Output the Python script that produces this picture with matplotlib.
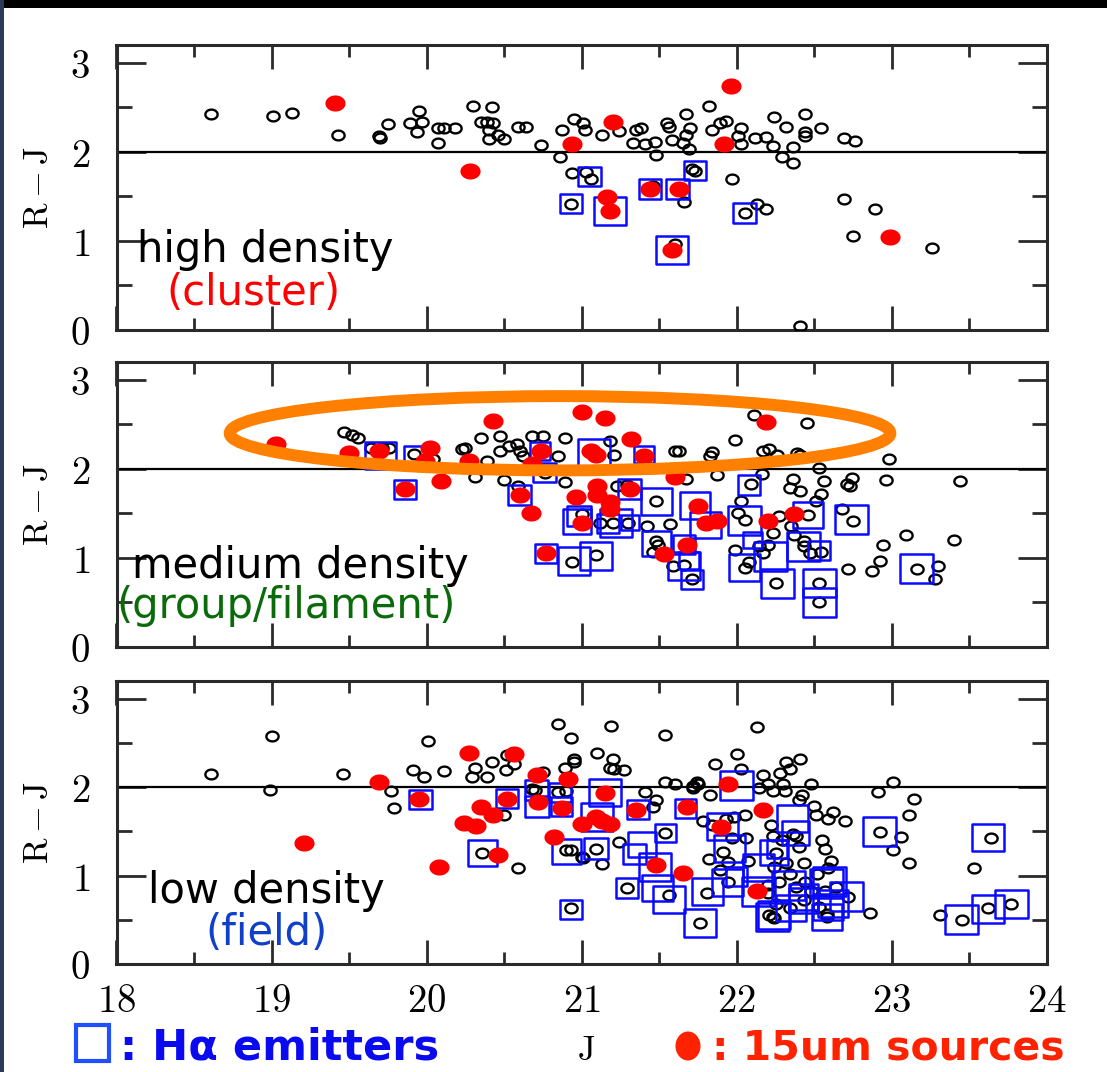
import numpy as np
import matplotlib
matplotlib.use("Agg")
import matplotlib.pyplot as plt
from matplotlib.path import Path
from matplotlib.patches import Ellipse, Rectangle
from matplotlib.ticker import MultipleLocator

plt.rcParams['mathtext.fontset'] = 'cm'
plt.rcParams['font.family'] = ['DejaVu Sans']

# ---------------------------------------------------------------- data
J_TICKS = [18, 19, 20, 21, 22, 23, 24]
J_TICK_LABELS = ['$18$', '$19$', '$20$', '$21$', '$22$', '$23$', '$24$']
RJ_TICKS = [0, 1, 2, 3]
RJ_TICK_LABELS = ['$0$', '$1$', '$2$', '$3$']
J_RANGE = (18, 24)
RJ_RANGE = (0, 3.2)
RJ_CUT = 2.0
X_LABEL = '$\\mathrm{J}$'
Y_LABEL = '$\\mathrm{R-J}$'

# (J, R-J) of all galaxies, high density (cluster)
high_all = [
    (18.61, 2.42), (19.01, 2.40), (19.13, 2.44), (19.43, 2.19), (19.69, 2.18), (19.70, 2.16),
    (19.75, 2.31), (19.89, 2.32), (19.95, 2.46), (19.97, 2.33), (19.94, 2.22), (20.07, 2.27),
    (20.11, 2.27), (20.18, 2.27), (20.07, 2.10), (20.30, 2.52), (20.42, 2.50), (20.35, 2.34),
    (20.39, 2.33), (20.43, 2.32), (20.40, 2.24), (20.40, 2.15), (20.46, 2.19), (20.50, 2.15),
    (20.59, 2.28), (20.64, 2.28), (20.74, 2.08), (20.87, 2.25), (20.86, 1.94), (20.95, 2.37),
    (20.94, 1.76), (20.93, 1.42), (21.01, 2.32), (21.02, 2.24), (21.13, 2.19), (21.24, 2.23),
    (21.33, 2.10), (21.35, 2.24), (21.38, 2.27), (21.41, 2.09), (21.47, 2.11), (21.48, 1.97),
    (21.55, 2.32), (21.56, 2.28), (21.58, 2.13), (21.67, 2.43), (21.70, 2.27), (21.67, 2.19),
    (21.65, 2.10), (21.69, 2.03), (21.82, 2.52), (21.84, 2.24), (21.89, 2.32), (21.93, 2.35),
    (22.03, 2.27), (22.01, 2.18), (22.03, 2.09), (22.12, 2.16), (22.19, 2.17), (22.24, 2.39),
    (22.32, 2.28), (22.23, 2.07), (22.29, 1.94), (22.36, 1.88), (22.36, 2.06), (22.44, 2.42),
    (22.44, 2.22), (22.44, 2.18), (22.54, 2.27), (22.69, 2.16), (22.76, 2.12), (21.03, 1.77),
    (21.06, 1.70), (21.46, 1.62), (21.66, 1.44), (21.71, 1.81), (21.73, 1.78), (21.97, 1.69),
    (22.05, 1.31), (22.13, 1.41), (22.19, 1.36), (21.60, 0.97), (22.69, 1.47), (22.89, 1.36),
    (22.75, 1.06), (23.26, 0.92), (22.41, 0.04),
]
high_15um = [
    (19.41, 2.55), (20.28, 1.78), (20.94, 2.09), (21.20, 2.33), (21.16, 1.49), (21.18, 1.34),
    (21.44, 1.58), (21.63, 1.58), (21.58, 0.90), (21.96, 2.74), (21.92, 2.09), (22.99, 1.04),
]
# (J, R-J, relative H-alpha strength)
high_ha = [
    (20.93, 1.42, 0.69), (21.05, 1.72, 0.69), (21.18, 1.34, 0.97), (21.44, 1.58, 0.71),
    (21.62, 1.58, 0.71), (21.73, 1.79, 0.69), (22.05, 1.31, 0.71), (21.58, 0.90, 0.97),
]

medium_all = [
    (19.47, 2.41), (19.52, 2.38), (19.56, 2.35), (19.64, 2.24), (19.71, 2.23), (19.76, 2.23),
    (19.92, 2.17), (20.04, 2.11), (20.23, 2.22), (20.25, 2.23), (20.35, 2.35), (20.39, 2.09),
    (20.31, 1.91), (20.47, 2.37), (20.47, 2.20), (20.53, 2.26), (20.58, 2.28), (20.60, 2.20),
    (20.62, 2.15), (20.50, 1.88), (20.59, 1.81), (20.68, 2.37), (20.75, 2.37), (20.76, 1.95),
    (20.85, 2.15), (20.89, 2.35), (20.89, 1.85), (21.18, 2.31), (21.21, 2.16), (21.00, 1.49),
    (21.12, 1.39), (21.20, 1.39), (21.23, 1.81), (21.29, 1.82), (21.48, 1.64), (21.30, 1.39),
    (21.42, 1.36), (21.57, 1.38), (21.48, 1.19), (21.49, 1.15), (21.46, 1.07), (21.59, 0.91),
    (21.66, 0.92), (21.71, 0.76), (20.94, 0.96), (21.09, 1.03), (21.60, 2.20), (21.63, 2.20),
    (21.67, 1.89), (21.84, 2.19), (21.83, 2.14), (21.87, 1.93), (21.99, 2.32), (22.11, 2.60),
    (22.45, 2.51), (22.17, 2.20), (22.21, 2.22), (22.26, 2.16), (22.39, 2.18), (22.41, 2.16),
    (22.98, 2.11), (22.53, 2.01), (22.16, 1.94), (22.09, 1.83), (22.36, 1.89), (22.34, 1.79),
    (22.41, 1.75), (22.56, 1.86), (22.54, 1.72), (22.51, 1.64), (22.74, 1.90), (22.71, 1.83),
    (22.73, 1.81), (22.96, 1.88), (23.44, 1.86), (22.46, 1.48), (22.75, 1.41), (22.68, 1.55),
    (23.09, 1.26), (23.40, 1.20), (22.94, 1.15), (22.92, 0.97), (22.87, 0.85), (22.72, 0.88),
    (23.16, 0.88), (23.30, 0.91), (23.28, 0.76), (22.03, 1.64), (22.01, 1.51), (22.05, 1.43),
    (22.23, 1.28), (22.27, 1.47), (22.35, 1.36), (22.37, 1.26), (22.05, 0.89), (22.08, 0.95),
    (22.14, 1.13), (22.17, 1.06), (22.20, 1.15), (21.99, 1.09), (22.25, 0.72), (22.43, 1.19),
    (22.43, 1.13), (22.47, 1.06), (22.54, 1.07), (22.53, 0.72), (22.53, 0.50),
]
medium_15um = [
    (19.03, 2.28), (19.50, 2.18), (19.69, 2.20), (19.99, 2.09), (20.02, 2.24), (20.09, 1.86),
    (19.86, 1.77), (20.43, 2.54), (20.27, 2.09), (20.74, 2.20), (20.68, 2.05), (20.60, 1.71),
    (20.67, 1.50), (20.96, 1.68), (21.00, 2.64), (21.15, 2.57), (21.32, 2.34), (21.40, 2.15),
    (21.06, 2.20), (21.09, 2.16), (21.10, 1.81), (21.10, 1.71), (21.18, 1.63), (21.18, 1.55),
    (21.31, 1.77), (21.00, 1.39), (20.77, 1.06), (21.53, 1.04), (21.68, 1.15), (21.60, 1.91),
    (21.75, 1.58), (21.80, 1.39), (21.87, 1.42), (22.19, 2.53), (22.20, 1.41), (22.37, 1.49),
]
medium_ha = [
    (19.70, 2.15, 0.94), (19.92, 2.16, 0.63), (19.86, 1.77, 0.69), (20.73, 2.20, 0.63),
    (20.76, 1.96, 0.69), (20.60, 1.71, 0.71), (20.98, 1.47, 0.74), (20.97, 1.41, 0.86),
    (20.77, 1.05, 0.69), (20.95, 0.97, 0.97), (21.09, 1.02, 0.97), (21.08, 2.18, 0.97),
    (21.40, 2.16, 0.63), (21.22, 1.39, 0.97), (21.31, 1.40, 0.57), (21.31, 1.77, 0.71),
    (21.48, 1.63, 0.94), (21.48, 1.16, 0.89), (21.66, 1.15, 0.69), (21.17, 1.39, 0.69),
    (21.73, 1.59, 0.94), (21.80, 1.37, 0.94), (21.66, 0.91, 0.97), (21.71, 0.76, 0.69),
    (21.69, 0.97, 0.63), (22.08, 1.82, 0.69), (22.05, 1.42, 1.00), (22.10, 1.20, 0.60),
    (22.22, 1.02, 1.00), (22.05, 0.89, 0.94), (22.26, 0.71, 1.00), (22.43, 1.13, 1.00),
    (22.53, 1.08, 0.69), (22.46, 1.48, 0.91), (22.74, 1.43, 1.00), (22.53, 0.72, 1.00),
    (22.53, 0.50, 1.00), (23.16, 0.88, 1.00),
]

low_all = [
    (18.61, 2.15), (19.00, 2.58), (18.99, 1.97), (19.46, 2.15), (19.77, 1.96), (19.79, 1.76),
    (19.91, 2.19), (19.98, 2.12), (20.01, 2.52), (20.11, 2.18), (20.31, 2.22), (20.42, 2.28),
    (20.29, 2.11), (20.39, 2.12), (20.51, 2.19), (20.52, 2.36), (20.56, 2.26), (20.50, 1.68),
    (20.36, 1.25), (20.59, 1.09), (20.75, 2.17), (20.68, 1.98), (20.70, 1.97), (20.85, 1.95),
    (20.90, 1.96), (20.85, 2.71), (20.93, 2.56), (21.19, 2.69), (21.54, 2.59), (20.95, 2.32),
    (20.95, 2.28), (20.89, 2.22), (21.10, 2.39), (21.20, 2.32), (21.21, 2.21), (21.18, 2.22),
    (21.27, 2.19), (20.90, 1.29), (20.93, 1.29), (21.00, 1.21), (21.09, 1.30), (21.13, 1.13),
    (21.01, 1.20), (21.24, 1.38), (20.93, 0.63), (21.41, 1.94), (21.48, 1.86), (21.46, 1.77),
    (21.54, 2.06), (21.60, 2.04), (21.72, 1.99), (21.74, 2.06), (21.54, 1.48), (21.29, 0.86),
    (21.56, 0.78), (21.76, 0.46), (22.13, 2.68), (22.00, 2.38), (21.86, 2.26), (22.03, 2.21),
    (22.32, 2.28), (22.34, 2.20), (22.41, 2.32), (22.28, 2.16), (22.17, 2.14), (22.20, 2.04),
    (22.14, 1.99), (22.23, 1.96), (22.30, 2.04), (22.31, 1.96), (22.48, 2.04), (22.42, 1.91),
    (22.40, 1.86), (21.72, 2.01), (21.75, 2.03), (21.83, 1.91), (22.91, 1.95), (23.01, 2.06),
    (23.14, 1.87), (23.11, 1.69), (22.36, 1.47), (22.50, 1.79), (22.51, 1.68), (22.62, 1.72),
    (22.59, 1.64), (22.70, 1.62), (22.92, 1.49), (23.06, 1.44), (23.01, 1.29), (23.11, 1.14),
    (23.64, 1.43), (23.53, 1.08), (23.45, 0.50), (23.31, 0.55), (23.62, 0.63), (23.77, 0.68),
    (22.86, 0.58), (21.78, 1.62), (21.84, 1.57), (21.93, 1.64), (21.98, 1.66), (22.05, 1.68),
    (22.06, 1.43), (21.97, 1.43), (21.91, 1.27), (21.82, 1.19), (21.94, 1.15), (22.07, 1.17),
    (21.89, 1.06), (22.22, 1.57), (22.23, 1.45), (22.29, 1.40), (22.38, 1.45), (22.40, 1.32),
    (22.55, 1.40), (22.57, 1.30), (22.61, 1.17), (22.59, 1.08), (22.52, 1.02), (22.43, 1.14),
    (22.25, 1.25), (22.24, 1.10), (22.32, 1.14), (22.34, 1.02), (22.27, 0.93), (22.20, 0.89),
    (22.38, 0.87), (22.44, 0.93), (22.48, 0.82), (22.57, 0.82), (22.64, 0.87), (22.72, 0.76),
    (22.43, 0.72), (22.53, 0.65), (22.58, 0.57), (22.20, 0.80), (22.25, 0.68), (22.21, 0.55),
    (22.24, 0.52), (21.94, 0.93), (21.81, 0.80), (22.34, 0.63), (22.23, 0.53), (22.58, 0.53),
]
low_15um = [
    (19.21, 1.37), (19.69, 2.06), (19.95, 1.87), (20.08, 1.10), (20.27, 2.39), (20.56, 2.38),
    (20.35, 1.77), (20.43, 1.68), (20.24, 1.59), (20.32, 1.56), (20.46, 1.23), (20.52, 1.87),
    (20.71, 2.14), (20.72, 1.83), (20.87, 1.76), (20.91, 2.09), (20.82, 1.44), (21.00, 1.58),
    (21.15, 1.93), (21.09, 1.66), (21.13, 1.62), (21.18, 1.58), (21.35, 1.74), (21.48, 1.12),
    (21.65, 1.03), (21.68, 1.77), (21.94, 2.04), (22.17, 1.74), (21.90, 1.55), (22.13, 0.83),
]
low_ha = [
    (19.96, 1.86, 0.69), (20.36, 1.25, 0.91), (20.52, 1.87, 0.69), (20.71, 1.97, 0.71),
    (20.71, 1.78, 0.74), (20.86, 1.94, 0.69), (20.87, 1.78, 0.66), (20.90, 1.27, 0.89),
    (20.93, 0.62, 0.69), (21.09, 1.31, 0.74), (21.15, 1.94, 0.97), (21.10, 1.66, 0.97),
    (21.36, 1.75, 0.69), (21.67, 1.76, 0.66), (21.54, 1.48, 0.66), (21.39, 1.35, 0.86),
    (21.34, 1.24, 0.71), (21.47, 1.10, 0.97), (21.29, 0.86, 0.69), (21.49, 0.86, 0.94),
    (21.56, 0.73, 0.97), (21.76, 0.46, 0.97), (22.00, 2.02, 1.00), (21.91, 1.55, 0.94),
    (21.95, 1.31, 0.94), (22.14, 1.09, 0.94), (22.00, 0.99, 0.66), (22.14, 0.82, 1.00),
    (21.94, 0.92, 0.94), (21.81, 0.82, 0.94), (22.24, 1.26, 0.86), (22.26, 1.30, 0.63),
    (22.36, 1.65, 0.94), (22.38, 1.48, 0.83), (22.33, 0.89, 1.00), (22.43, 0.76, 0.91),
    (22.58, 0.91, 1.00), (22.71, 0.76, 1.00), (22.62, 0.68, 0.94), (22.60, 0.93, 1.00),
    (22.59, 0.65, 0.91), (22.43, 0.72, 0.86), (22.35, 0.63, 0.91), (22.24, 0.55, 0.97),
    (22.23, 0.53, 1.00), (22.58, 0.53, 0.91), (22.92, 1.50, 1.00), (23.62, 1.43, 0.97),
    (23.45, 0.50, 1.00), (23.62, 0.62, 0.97), (23.77, 0.68, 1.00),
]

panel_titles = ['high density', 'medium density', 'low density']
panel_subtitles = ['(cluster)', '(group/filament)', '(field)']
legend_ha = ': H\u03b1 emitters'
legend_15um = ': 15um sources'

# highlighted red-sequence region in the medium-density panel (J, R-J, width, height)
highlight = (20.86, 2.40, 4.26, 0.834)

# ---------------------------------------------------------------- style
W, H = 1107, 1072
fig = plt.figure(figsize=(W / 100, H / 100), dpi=100)

def fx(px):
    return px / W

def fy(py):
    return 1 - py / H

t = np.linspace(0, 2 * np.pi, 64)
OVAL = Path(np.c_[np.cos(t), 0.8 * np.sin(t)], closed=True)
BOX = Path([(-1, -0.87), (1, -0.87), (1, 0.87), (-1, 0.87), (-1, -0.87)], closed=True)

panel_px = [(45, 330), (362, 647), (681, 964)]
left_px, right_px = 116.5, 1047

sub_colors = ['#ff0000', '#0b6b0b', '#1040c8']
title_pos = [(18.13, 0.76), (18.10, 0.78), (18.20, 0.69)]
sub_pos = [(18.32, 0.28), (18.00, 0.33), (18.57, 0.21)]

datasets = [(high_all, high_15um, high_ha),
            (medium_all, medium_15um, medium_ha),
            (low_all, low_15um, low_ha)]

axes = []
for i, ((top, bot), (allg, ir, ha)) in enumerate(zip(panel_px, datasets)):
    ax = fig.add_axes([fx(left_px), fy(bot), fx(right_px - left_px), (bot - top) / H])
    axes.append(ax)
    ax.set_xlim(*J_RANGE)
    ax.set_ylim(*RJ_RANGE)
    ax.axhline(RJ_CUT, color='black', lw=1.6, zorder=2)

    a = np.array(allg)
    ax.plot(a[:, 0], a[:, 1], ls='none', marker=OVAL, ms=8.8, mfc='none',
            mec='black', mew=1.7, zorder=3)
    h = np.array(ha)
    size_pt = (h[:, 2] * 35 - 2) * 0.72
    ax.scatter(h[:, 0], h[:, 1], s=size_pt ** 2, marker=BOX, facecolors='none',
               edgecolors='#0a0aff', linewidths=1.8, zorder=4)
    r = np.array(ir)
    ax.plot(r[:, 0], r[:, 1], ls='none', marker=OVAL, ms=14.5, mfc='#ff0000',
            mec='none', zorder=5)

    for s in ax.spines.values():
        s.set_linewidth(2.2)
        s.set_color('#2a2a2a')
    ax.set_xticks(J_TICKS)
    ax.set_yticks(RJ_TICKS)
    ax.xaxis.set_minor_locator(MultipleLocator(0.5))
    ax.yaxis.set_minor_locator(MultipleLocator(0.5))
    ax.set_yticklabels(RJ_TICK_LABELS, fontsize=28)
    if i == 2:
        ax.set_xticklabels(J_TICK_LABELS, fontsize=28)
    else:
        ax.set_xticklabels([])
    ax.tick_params(which='both', direction='in', top=True, right=True, color='#2a2a2a')
    ax.tick_params(axis='x', which='major', length=17, width=2.0, pad=13)
    ax.tick_params(axis='x', which='minor', length=8.6, width=2.0)
    ax.tick_params(axis='y', which='major', length=21, width=2.0, pad=19)
    ax.tick_params(axis='y', which='minor', length=10.5, width=2.0)

    fig.text(fx(38), fy((top + bot) / 2), Y_LABEL, rotation=90, ha='center', va='center',
             fontsize=25)

    tx, ty = title_pos[i]
    ax.text(tx, ty, panel_titles[i], fontsize=30, color='black', ha='left', va='baseline',
            zorder=10)
    sx, sy = sub_pos[i]
    ax.text(sx, sy, panel_subtitles[i], fontsize=30, color=sub_colors[i], ha='left',
            va='baseline', zorder=10)

# highlight ellipse
cx, cy, ew, eh = highlight
axes[1].add_patch(Ellipse((cx, cy), ew, eh, fill=False, edgecolor='#ff8000', lw=8.6,
                          zorder=8, clip_on=False))

# x label and legend line
fig.text(fx(586), fy(1060), X_LABEL, ha='center', va='baseline', fontsize=25)
fig.patches.append(Rectangle((fx(76), fy(1061)), fx(33), 36 / H, transform=fig.transFigure,
                             fill=False, edgecolor='#1f4fff', lw=3.0, figure=fig))
fig.text(fx(120), fy(1060), legend_ha, ha='left', va='baseline', fontsize=31,
         fontweight='bold', color='#0a0af0')
fig.patches.append(Ellipse((fx(688), fy(1046)), fx(25), 29 / H, transform=fig.transFigure,
                           facecolor='#ff2200', edgecolor='none', figure=fig))
fig.text(fx(712), fy(1060), legend_15um, ha='left', va='baseline', fontsize=29.5,
         fontweight='bold', color='#ff2200')

# slide frame
fig.patches.append(Rectangle((0, fy(8)), 1, 8 / H, transform=fig.transFigure,
                             facecolor='black', edgecolor='none', figure=fig))
fig.patches.append(Rectangle((0, 0), fx(4), 1, transform=fig.transFigure,
                             facecolor='#2c3a58', edgecolor='none', figure=fig))

fig.savefig('out.png', dpi=100)
